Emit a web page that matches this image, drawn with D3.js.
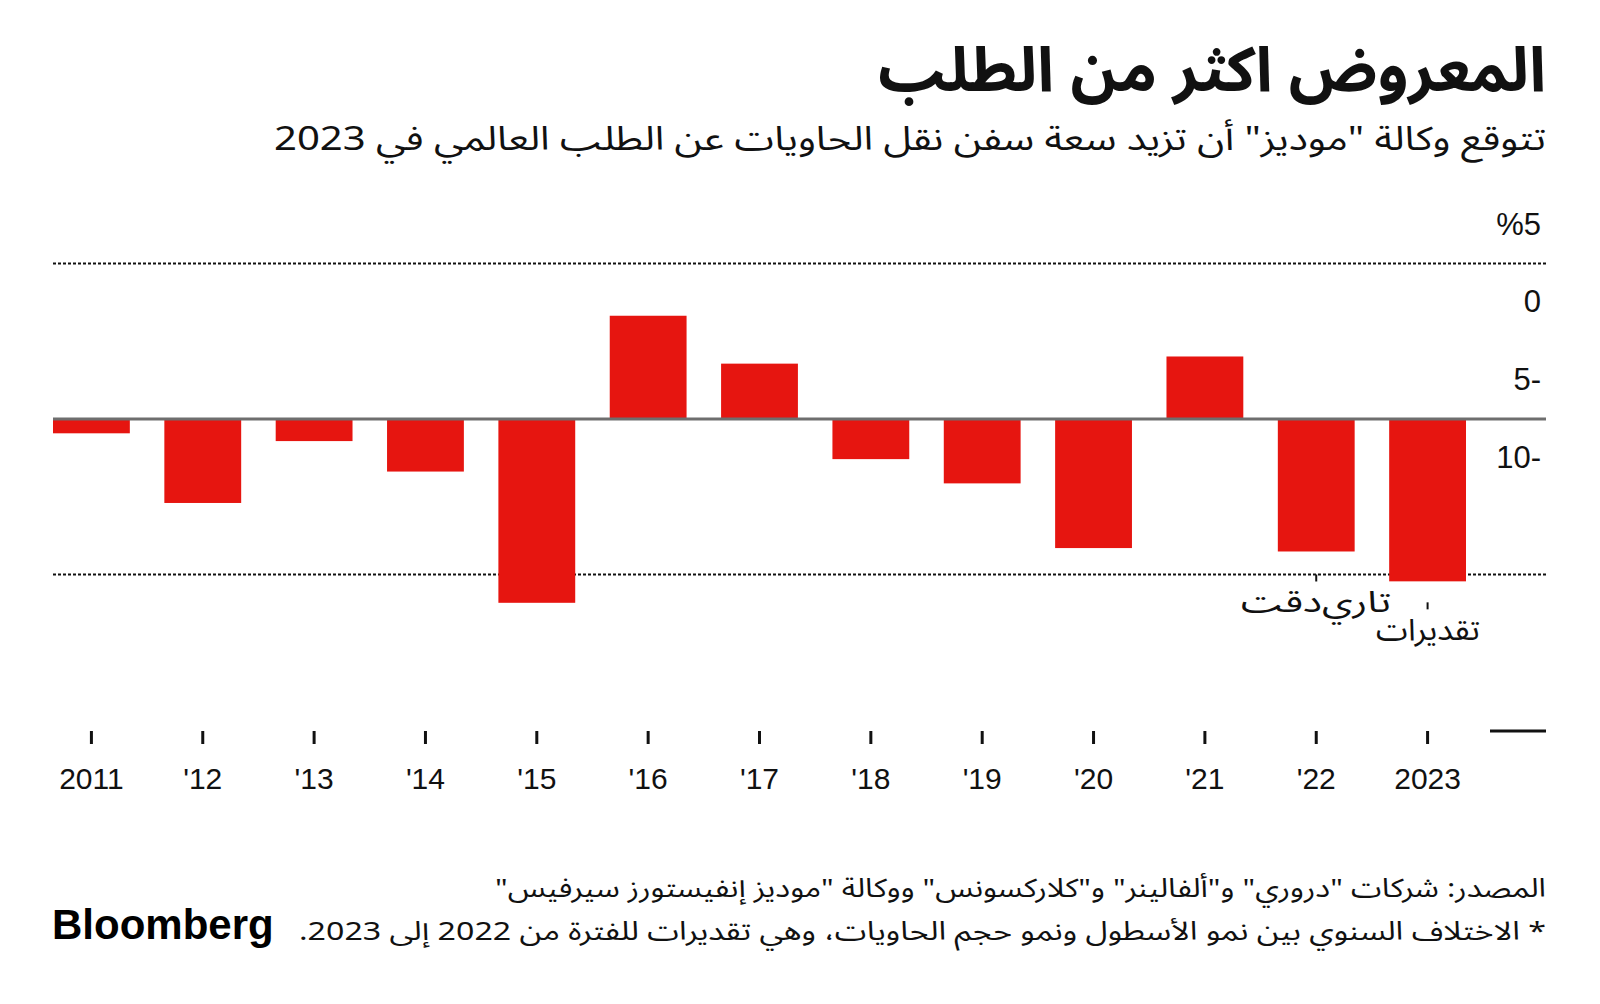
<!DOCTYPE html>
<html>
<head>
<meta charset="utf-8">
<script src="https://cdn.jsdelivr.net/npm/d3@7"></script>
<style>
  body { margin: 0; background: #fff; }
  svg { display: block; }
  .ar { font-family: "Noto Sans Arabic", "Noto Kufi Arabic", "DejaVu Sans", sans-serif; direction: rtl; }
  .num { font-family: "Liberation Sans", Arial, sans-serif; }
</style>
</head>
<body>
<div id="chart"></div>
<script>
// data
var years = ["2011","2012","2013","2014","2015","2016","2017","2018","2019","2020","2021","2022","2023"];
var yearLabels = ["2011","'12","'13","'14","'15","'16","'17","'18","'19","'20","'21","'22","2023"];
var values = [-0.46,-2.70,-0.71,-1.69,-5.91,3.32,1.78,-1.29,-2.07,-4.15,2.01,-4.26,-5.22];
var gridValues = [5,-5];
var tickValues = [5,0,-5,-10];

var W = 1600, H = 1004;
var left = 53, right = 1546;

var svg = d3.select("#chart").append("svg")
  .attr("width", W).attr("height", H);

// arabic text, right aligned, stretched to the width it has in the original
function arText(str, xr, yb, size, width, weight) {
  return svg.append("text").attr("class","ar")
    .attr("x", xr).attr("y", yb)
    .attr("font-size", size).attr("font-weight", weight || "normal")
    .attr("fill", "#111")
    .attr("textLength", width).attr("lengthAdjust", "spacingAndGlyphs")
    .text(str);
}

// titles
arText("المعروض اكثر من الطلب", right, 91, 62, 668, "bold");
arText("تتوقع وكالة \"موديز\" أن تزيد سعة سفن نقل الحاويات عن الطلب العالمي في 2023", right, 150, 33, 1272);

// scales
var x = d3.scaleBand().domain(years)
  .range([left, 1466]).paddingInner(0.31).paddingOuter(0);

var y = d3.scaleLinear().domain([-5, 5]).range([574.5, 263.5]);

// the labels on the right sit at half the spacing of the gridlines
var yLab = d3.scaleLinear().domain([5, -10]).range([224, 457]);

// gridlines
svg.selectAll(".grid").data(gridValues).enter().append("line")
  .attr("class","grid")
  .attr("x1", left).attr("x2", right)
  .attr("y1", d => y(d)).attr("y2", d => y(d))
  .attr("stroke", "#111").attr("stroke-width", 2)
  .attr("stroke-dasharray", "3,2");

// bars
svg.selectAll(".bar").data(values).enter().append("rect")
  .attr("class","bar")
  .attr("x", (d,i) => x(years[i]))
  .attr("width", x.bandwidth())
  .attr("y", d => Math.min(y(d), y(0)))
  .attr("height", d => Math.abs(y(d) - y(0)))
  .attr("fill", "#e61510");

// zero line
svg.append("line")
  .attr("x1", left).attr("x2", right)
  .attr("y1", y(0)).attr("y2", y(0))
  .attr("stroke", "#6e6e6e").attr("stroke-width", 3);

// y labels
svg.selectAll(".ylab").data(tickValues).enter().append("text")
  .attr("class","num")
  .attr("x", 1541).attr("y", d => yLab(d))
  .attr("text-anchor","end").attr("dominant-baseline","central")
  .attr("font-size", 31).attr("fill","#111")
  .text(d => d === 5 ? "%5" : d < 0 ? Math.abs(d) + "-" : d);

// x axis ticks and labels
var xa = svg.append("g");
xa.selectAll("line").data(years).enter().append("line")
  .attr("x1", d => x(d) + x.bandwidth()/2).attr("x2", d => x(d) + x.bandwidth()/2)
  .attr("y1", 731).attr("y2", 744)
  .attr("stroke", "#111").attr("stroke-width", 3);
xa.selectAll("text").data(years).enter().append("text")
  .attr("class","num")
  .attr("x", d => x(d) + x.bandwidth()/2).attr("y", 789)
  .attr("text-anchor","middle").attr("font-size", 30).attr("fill","#111")
  .text((d,i) => yearLabels[i]);
svg.append("line")
  .attr("x1", 1490).attr("x2", right).attr("y1", 731).attr("y2", 731)
  .attr("stroke","#111").attr("stroke-width", 3);

// annotations for the last two bars
var c22 = x("2022") + x.bandwidth()/2, c23 = x("2023") + x.bandwidth()/2;
svg.append("line").attr("x1", c22).attr("x2", c22)
  .attr("y1", y(values[11]) + 23).attr("y2", y(values[11]) + 30)
  .attr("stroke","#111").attr("stroke-width", 2);
svg.append("line").attr("x1", c23).attr("x2", c23)
  .attr("y1", y(values[12]) + 21).attr("y2", y(values[12]) + 28)
  .attr("stroke","#111").attr("stroke-width", 2);
arText("تاري\u200Cدقت", 1391, 612, 30, 150);
arText("تقديرات", 1480, 640, 30, 104);

// footer
arText("المصدر: شركات \"دروري\" و\"ألفالينر\" و\"كلاركسونس\" ووكالة \"موديز إنفيستورز سيرفيس\"", right, 897, 26, 1051);
arText("* الاختلاف السنوي بين نمو الأسطول ونمو حجم الحاويات، وهي تقديرات للفترة من 2022 إلى 2023.", right, 940, 26, 1247);

svg.append("text").attr("class","num")
  .attr("x", 52).attr("y", 939)
  .attr("font-size", 42).attr("font-weight","bold")
  .attr("fill","#000")
  .text("Bloomberg");
</script>
</body>
</html>
